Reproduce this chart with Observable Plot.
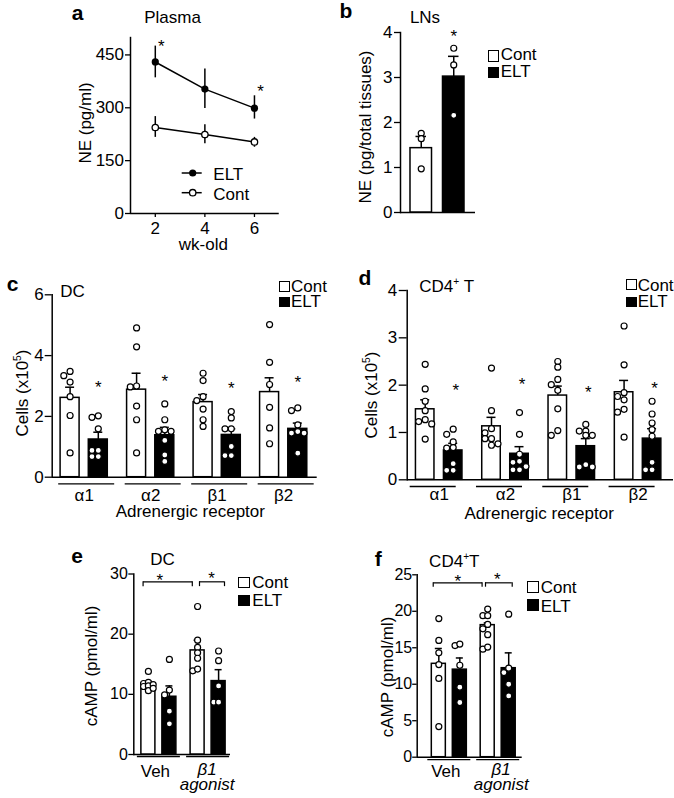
<!DOCTYPE html>
<html>
<head>
<meta charset="utf-8">
<script src="https://cdn.jsdelivr.net/npm/d3@7"></script>
<script src="https://cdn.jsdelivr.net/npm/@observablehq/plot@0.6"></script>
<style>
html, body { margin: 0; padding: 0; background: #fff; }
#fig { position: relative; width: 674px; height: 798px; overflow: hidden; font-family: "Liberation Sans", Arial, Helvetica, sans-serif; color: #000; }
.t { position: absolute; white-space: nowrap; transform: translate(-50%, -50%); font-size: 17px; line-height: 1; }
.rot { transform: translate(-50%, -50%) rotate(-90deg); }
.lt { position: absolute; white-space: nowrap; transform: translate(0, -50%); font-size: 17px; line-height: 1; }
.bold { font-weight: bold; font-size: 21px; line-height: 0.8; }
.sq { position: absolute; box-sizing: border-box; border: 1.5px solid #000; background: #fff; }
.sq.f { background: #000; }
sup { font-size: 0.6em; line-height: 0; vertical-align: 0.65em; }
</style>
</head>
<body>
<div id="fig">
  <!-- panel a -->
  <div class="t bold" style="left:77.5px;top:13.3px">a</div>
  <div class="t" style="left:172.5px;top:17.3px">Plasma</div>
  <div class="t rot" style="left:84.5px;top:123px">NE (pg/ml)</div>
  <div class="t" style="left:203.3px;top:244.3px">wk-old</div>
  <svg style="position:absolute;left:178px;top:163px" width="30" height="40">
    <line x1="3.7" y1="10" x2="23.7" y2="10" stroke="#000" stroke-width="1.5"/>
    <circle cx="14.7" cy="10" r="3.6" fill="#000"/>
    <line x1="3.7" y1="29.7" x2="23.7" y2="29.7" stroke="#000" stroke-width="1.5"/>
    <circle cx="14.7" cy="29.7" r="3.2" fill="#fff" stroke="#000" stroke-width="1.3"/>
  </svg>
  <div class="lt" style="left:213.3px;top:174px">ELT</div>
  <div class="lt" style="left:213.3px;top:194px">Cont</div>
  <!-- panel b -->
  <div class="t bold" style="left:345.8px;top:11px">b</div>
  <div class="t" style="left:425px;top:17.3px">LNs</div>
  <div class="t rot" style="left:364.5px;top:126.7px">NE (pg/total tissues)</div>
  <div class="sq" style="left:488.3px;top:50px;width:11px;height:11.5px"></div>
  <div class="sq f" style="left:488.3px;top:66.5px;width:11px;height:11px"></div>
  <div class="lt" style="left:500.7px;top:54px">Cont</div>
  <div class="lt" style="left:500.7px;top:70.7px">ELT</div>
  <!-- panel c -->
  <div class="t bold" style="left:12.5px;top:284.3px">c</div>
  <div class="t" style="left:72.5px;top:290.8px">DC</div>
  <div class="t rot" style="left:21.5px;top:393.3px">Cells (x10<sup>5</sup>)</div>
  <div class="t" style="left:190.3px;top:511px">Adrenergic receptor</div>
  <div class="sq" style="left:279.3px;top:280.7px;width:10.7px;height:11px"></div>
  <div class="sq f" style="left:279.3px;top:296.7px;width:10.7px;height:10.3px"></div>
  <div class="lt" style="left:291px;top:285.8px">Cont</div>
  <div class="lt" style="left:291px;top:301.4px">ELT</div>
  <!-- panel d -->
  <div class="t bold" style="left:365px;top:277.6px">d</div>
  <div class="t" style="left:446.7px;top:285.8px">CD4<sup>+</sup> T</div>
  <div class="t rot" style="left:371.3px;top:395px">Cells (x10<sup>5</sup>)</div>
  <div class="t" style="left:539.2px;top:513px">Adrenergic receptor</div>
  <div class="sq" style="left:626px;top:279.3px;width:10.7px;height:11px"></div>
  <div class="sq f" style="left:626px;top:296.7px;width:10.7px;height:10.3px"></div>
  <div class="lt" style="left:637.7px;top:284.8px">Cont</div>
  <div class="lt" style="left:637.7px;top:301.4px">ELT</div>
  <!-- panel e -->
  <div class="t bold" style="left:77.2px;top:556px">e</div>
  <div class="t" style="left:162.5px;top:559px">DC</div>
  <div class="t rot" style="left:90.5px;top:665.8px">cAMP (pmol/ml)</div>
  <div class="sq" style="left:237.7px;top:577.3px;width:12.3px;height:11px"></div>
  <div class="sq f" style="left:237.7px;top:595px;width:12.3px;height:10.7px"></div>
  <div class="lt" style="left:252.3px;top:582.4px">Cont</div>
  <div class="lt" style="left:252.3px;top:600px">ELT</div>
  <!-- panel f -->
  <div class="t bold" style="left:378.3px;top:558.7px">f</div>
  <div class="t" style="left:454.3px;top:560.8px">CD4<sup>+</sup>T</div>
  <div class="t rot" style="left:387px;top:676.7px">cAMP (pmol/ml)</div>
  <div class="sq" style="left:526.7px;top:580.7px;width:12.6px;height:12px"></div>
  <div class="sq f" style="left:526.7px;top:599.3px;width:12.6px;height:11.4px"></div>
  <div class="lt" style="left:540.7px;top:587.4px">Cont</div>
  <div class="lt" style="left:540.7px;top:605.8px">ELT</div>
</div>
<script>
// ---------------- Panel a: plasma NE (pg/ml) by age ----------------
const weeks = [2, 4, 6];
const eltNE = [430, 353, 299];
const eltNELo = [385, 298, 268];
const eltNEHi = [475, 410, 334];
const contNE = [244, 224, 203];
const contNELo = [216, 198, 188];
const contNEHi = [275, 252, 216];
const neStarWeeks = [2, 6];
const neStarLevels = [486, 358];
const neTicksY = [0, 150, 300, 450];

// ---------------- Panel b: LN NE (pg/total tissues) ----------------
const lnGroups = ["Cont", "ELT"];
const lnMean = [1.43, 3.02];
const lnSE = [0.26, 0.45];
const lnPoints = [[1.76, 1.64, 0.97], [3.65, 3.28, 2.16]];
const lnStarLevel = 4.0;
const lnTicksY = [0, 1, 2, 3, 4];

// ---------------- Panel c: DC cells (x10^5) ----------------
const receptors = ["α1", "α2", "β1", "β2"];
const dcContMean = [2.61, 2.88, 2.47, 2.80];
const dcContSE = [0.35, 0.54, 0.25, 0.47];
const dcEltMean = [1.24, 1.38, 1.39, 1.59];
const dcEltSE = [0.24, 0.26, 0.20, 0.19];
const dcContPts = [
  [3.48, 3.34, 3.13, 2.65, 2.03, 0.80],
  [4.91, 4.29, 3.00, 2.97, 2.34, 1.89, 0.80],
  [3.42, 3.18, 2.65, 2.52, 2.24, 1.89, 1.67],
  [5.02, 3.78, 3.05, 2.30, 1.62, 1.10]
];
const dcEltPts = [
  [2.02, 1.97, 1.59, 0.88, 0.88, 0.68, 0.68],
  [2.41, 1.89, 1.56, 1.51, 1.51, 1.21, 0.73, 0.52],
  [2.16, 1.95, 1.59, 1.59, 1.01, 0.71, 0.71],
  [2.28, 2.19, 1.72, 1.50, 1.45, 1.45, 0.79]
];
const dcStars = [3.10, 3.29, 3.07, 3.24];
const dcTicksY = [0, 2, 4, 6];

// ---------------- Panel d: CD4+ T cells (x10^5) ----------------
const tContMean = [1.49, 1.13, 1.78, 1.85];
const tContSE = [0.20, 0.19, 0.20, 0.25];
const tEltMean = [0.62, 0.55, 0.71, 0.87];
const tEltSE = [0.15, 0.15, 0.16, 0.21];
const tContPts = [
  [2.44, 1.92, 1.66, 1.46, 1.27, 1.23, 1.18, 0.86],
  [2.36, 1.46, 1.08, 0.99, 0.87, 0.87, 0.76, 0.73],
  [2.50, 2.38, 2.12, 2.01, 1.89, 1.50, 1.04, 0.94],
  [3.25, 2.43, 1.84, 1.76, 1.69, 1.49, 1.43, 0.90]
];
const tEltPts = [
  [1.07, 0.96, 0.80, 0.68, 0.67, 0.34, 0.20, 0.20],
  [1.42, 0.96, 0.54, 0.39, 0.37, 0.28, 0.21, 0.21],
  [1.17, 1.03, 1.03, 0.94, 0.94, 0.32, 0.27, 0.27],
  [1.66, 1.39, 1.20, 1.06, 0.92, 0.37, 0.21, 0.21]
];
const tStars = [1.97, 2.10, 1.94, 2.01];
const tTicksY = [0, 1, 2, 3, 4];

// ---------------- Panels e/f: cAMP (pmol/ml) ----------------
const treatments = ["Veh", "β1\nagonist"];
const dcCampContMean = [11.8, 17.3];
const dcCampContSE = [0.4, 1.7];
const dcCampEltMean = [9.6, 12.2];
const dcCampEltSE = [1.8, 1.9];
const dcCampContPts = [[13.8, 12.0, 11.8, 11.6, 11.4, 11.3, 11.0, 10.6], [24.6, 19.0, 17.8, 16.9, 16.0, 14.2, 13.9]];
const dcCampEltPts = [[15.8, 10.7, 9.9, 7.2, 5.1], [17.2, 15.6, 11.4, 8.7, 8.7]];
const dcCampSig = 28.7, dcCampSigDrop = 27.9;
const dcCampStars = [29.7, 30.0];
const dcCampTicksY = [0, 10, 20, 30];

const tCampContMean = [12.8, 18.1];
const tCampContSE = [2.1, 0.3];
const tCampEltMean = [12.0, 12.2];
const tCampEltSE = [1.6, 2.1];
const tCampContPts = [[19.0, 16.0, 14.3, 12.7, 10.8, 4.2], [20.3, 19.4, 19.4, 18.2, 17.6, 16.8, 15.1, 14.8]];
const tCampEltPts = [[15.5, 15.3, 12.6, 9.6, 7.5], [19.6, 12.2, 11.6, 10.0, 8.4]];
const tCampSig = 23.9, tCampSigDrop = 23.3;
const tCampStars = [24.7, 24.9];
const tCampTicksY = [0, 5, 10, 15, 20, 25];

// ---------------- drawing ----------------
const W = 674, H = 798;
const fig = document.getElementById("fig");
const STY = {position: "absolute", left: "0px", top: "0px", background: "transparent", overflow: "visible",
  fontFamily: '"Liberation Sans", Arial, Helvetica, sans-serif', fontSize: "17px", color: "black"};
const intFmt = d => String(d);

function addPlot(opts) {
  const p = Plot.plot({width: W, height: H, style: STY, ...opts});
  fig.insertBefore(p, fig.firstChild);
}

// place replicate dots in up to three columns so that they do not overlap too much
function layoutDots(values, ppu, step, minDist) {
  const out = [];
  const order = values.map((v, i) => i).sort((a, b) => values[b] - values[a]);
  for (const i of order) {
    const v = values[i];
    let best = 0, bestD = -1;
    for (const col of [0, -1, 1]) {
      let d = Infinity;
      for (const p of out) d = Math.min(d, Math.hypot((p.col - col) * step, (p.v - v) * ppu));
      if (d >= minDist) { best = col; bestD = d; break; }
      if (d > bestD) { bestD = d; best = col; }
    }
    out.push({v, col: best});
  }
  return out;
}

function groupedMarks(o) {
  const half = o.W / 2;
  const sub = {Cont: -o.off, ELT: o.off};
  const rows = {Cont: [], ELT: []};
  o.groups.forEach((g, i) => {
    rows.Cont.push({g, mean: o.contMean[i], se: o.contSE[i]});
    rows.ELT.push({g, mean: o.eltMean[i], se: o.eltSE[i]});
  });
  const ppu = (H - o.mt - o.mb) / o.yMax;
  const pts = [];
  o.groups.forEach((g, i) => {
    [["Cont", o.contPts[i]], ["ELT", o.eltPts[i]]].forEach(([trt, arr]) => {
      layoutDots(arr, ppu, o.colStep, o.minDist).forEach(q => pts.push({g, trt, v: q.v, col: q.col}));
    });
  });
  const marks = [
    Plot.frame({anchor: "left", strokeWidth: 1.5}),
    Plot.ruleY([0], {strokeWidth: 1.5}),
    Plot.tickY(o.groups, {x: d => d, y: () => 0, dy: o.ul.dy, dx: o.ul.dx, insetLeft: o.ul.il, insetRight: o.ul.ir, strokeWidth: 1.3}),
    Plot.axisY({ticks: o.yTicks, tickFormat: intFmt, tickSize: o.tickSize, tickPadding: o.tickPadding, strokeWidth: 1.3,
      fontSize: o.tickFont || 17, label: null})
  ];
  for (const trt of ["Cont", "ELT"]) {
    const s = sub[trt];
    marks.push(Plot.barY(rows[trt], {x: "g", y1: () => 0, y2: "mean", fill: trt === "Cont" ? "white" : "black",
      stroke: "black", strokeWidth: 1.5, insetLeft: half + s - o.bw / 2, insetRight: half - s - o.bw / 2}));
  }
  for (const trt of ["Cont", "ELT"]) {
    const s = sub[trt];
    marks.push(Plot.ruleX(rows[trt], {x: "g", y1: "mean", y2: d => d.mean + d.se, dx: s, strokeWidth: 1.5}));
    marks.push(Plot.tickY(rows[trt], {x: "g", y: d => d.mean + d.se, insetLeft: half + s - o.capW / 2,
      insetRight: half - s - o.capW / 2, strokeWidth: 1.5}));
  }
  for (const trt of ["Cont", "ELT"]) for (const col of [-1, 0, 1]) {
    const P = pts.filter(d => d.trt === trt && d.col === col);
    if (P.length) marks.push(Plot.dot(P, {x: "g", y: "v", r: o.r, fill: "white", stroke: "black", strokeWidth: 1.2,
      dx: sub[trt] + col * o.colStep}));
  }
  return marks;
}

// ---- Panel a
{
  const elt = weeks.map((w, i) => ({w, m: eltNE[i], lo: eltNELo[i], hi: eltNEHi[i]}));
  const cont = weeks.map((w, i) => ({w, m: contNE[i], lo: contNELo[i], hi: contNEHi[i]}));
  const stars = neStarWeeks.map((w, i) => ({w, lvl: neStarLevels[i]}));
  addPlot({
    marginLeft: 130, marginRight: W - 278.75, marginTop: 36.8, marginBottom: H - 213,
    x: {domain: [1, 7]}, y: {domain: [0, 500]},
    marks: [
      Plot.ruleX([1], {strokeWidth: 1.5}),
      Plot.ruleY([0], {strokeWidth: 1.5}),
      Plot.axisX({ticks: weeks, tickFormat: intFmt, tickSize: 4, tickPadding: 4.7, strokeWidth: 1.3, label: null}),
      Plot.axisY({ticks: neTicksY, tickFormat: intFmt, tickSize: 5, tickPadding: 1.5, strokeWidth: 1.3, label: null}),
      Plot.line(elt, {x: "w", y: "m", strokeWidth: 1.5}),
      Plot.line(cont, {x: "w", y: "m", strokeWidth: 1.5}),
      Plot.ruleX(elt, {x: "w", y1: "lo", y2: "hi", strokeWidth: 1.5}),
      Plot.ruleX(cont, {x: "w", y1: "lo", y2: "hi", strokeWidth: 1.5}),
      Plot.dot(elt, {x: "w", y: "m", r: 3.6, fill: "black"}),
      Plot.dot(cont, {x: "w", y: "m", r: 3.2, fill: "white", stroke: "black", strokeWidth: 1.3}),
      Plot.text(stars, {x: "w", y: "lvl", text: () => "*", dx: 6, dy: 4.3, fontSize: 17})
    ]
  });
}

// ---- Panel b
{
  const rows = lnGroups.map((g, i) => ({g, m: lnMean[i], se: lnSE[i]}));
  const ppu = 180 / 4;
  const pts = [];
  lnGroups.forEach((g, i) => layoutDots(lnPoints[i], ppu, 6, 5).forEach(q => pts.push({g, v: q.v, col: q.col})));
  const marks = [
    Plot.frame({anchor: "left", strokeWidth: 1.5}),
    Plot.ruleY([0], {strokeWidth: 1.5}),
    Plot.axisY({ticks: lnTicksY, tickFormat: intFmt, tickSize: 6, tickPadding: 2, strokeWidth: 1.3, label: null}),
    Plot.barY(rows.filter(d => d.g === "Cont"), {x: "g", y1: () => 0, y2: "m", fill: "white", stroke: "black", strokeWidth: 1.5}),
    Plot.barY(rows.filter(d => d.g === "ELT"), {x: "g", y1: () => 0, y2: "m", fill: "black", stroke: "black", strokeWidth: 1.5}),
    Plot.ruleX(rows, {x: "g", y1: "m", y2: d => d.m + d.se, strokeWidth: 1.5}),
    Plot.tickY(rows, {x: "g", y: d => d.m + d.se, insetLeft: 5.5, insetRight: 5.5, strokeWidth: 1.5}),
    Plot.text([lnGroups[1]], {x: d => d, y: () => lnStarLevel, text: () => "*", dy: 4.3, fontSize: 17})
  ];
  for (const col of [-1, 0, 1]) {
    const P = pts.filter(d => d.col === col);
    if (P.length) marks.push(Plot.dot(P, {x: "g", y: "v", r: 3, fill: "white", stroke: "black", strokeWidth: 1.2, dx: col * 6}));
  }
  addPlot({
    marginLeft: 400, marginRight: W - 475, marginTop: 32, marginBottom: H - 212,
    x: {type: "band", domain: lnGroups, paddingInner: 0.338, paddingOuter: 0.323, align: 0.476, round: false, axis: null},
    y: {domain: [0, 4]},
    marks
  });
}

// ---- Panel c
{
  const o = {groups: receptors, contMean: dcContMean, contSE: dcContSE, eltMean: dcEltMean, eltSE: dcEltSE,
    contPts: dcContPts, eltPts: dcEltPts, yMax: 6, yTicks: dcTicksY, mt: 294.3, mb: H - 476.7,
    W: 56, off: 14.1, bw: 19, capW: 9, r: 3, colStep: 6.3, minDist: 5.5, tickSize: 7, tickPadding: 1.5,
    ul: {dy: 6.6, dx: 2.5, il: 0, ir: 0}};
  const marks = groupedMarks(o);
  marks.push(Plot.axisX({tickSize: 0, tickPadding: 11.3, label: null}));
  marks.push(Plot.text(receptors.map((g, i) => ({g, lvl: dcStars[i]})), {x: "g", y: "lvl", text: () => "*", dx: o.off, dy: 4.3, fontSize: 17}));
  addPlot({
    marginLeft: 51.7, marginRight: W - 316.7, marginTop: o.mt, marginBottom: o.mb,
    x: {type: "band", domain: receptors, paddingInner: 0.158, paddingOuter: 0.0715, align: 0.42, round: false},
    y: {domain: [0, 6]},
    marks
  });
}

// ---- Panel d
{
  const o = {groups: receptors, contMean: tContMean, contSE: tContSE, eltMean: tEltMean, eltSE: tEltSE,
    contPts: tContPts, eltPts: tEltPts, yMax: 4, yTicks: tTicksY, mt: 290, mb: H - 479.3,
    W: 56, off: 14, bw: 18.5, capW: 9, r: 3, colStep: 6.5, minDist: 5.5, tickSize: 8, tickPadding: 2,
    ul: {dy: 6.7, dx: 0, il: -1, ir: 11}};
  const marks = groupedMarks(o);
  marks.push(Plot.axisX({tickSize: 0, tickPadding: 8.5, label: null}));
  marks.push(Plot.text(receptors.map((g, i) => ({g, lvl: tStars[i]})), {x: "g", y: "lvl", text: () => "*", dx: o.off + 2.5, dy: 4.3, fontSize: 17}));
  addPlot({
    marginLeft: 406.7, marginRight: W - 673, marginTop: o.mt, marginBottom: o.mb,
    x: {type: "band", domain: receptors, paddingInner: 0.155, paddingOuter: 0.086, align: 0.35, round: false},
    y: {domain: [0, 4]},
    marks
  });
}

// ---- Panels e and f
function campPanel(o) {
  const marks = groupedMarks(o);
  const g0 = [o.groups[0]], g1 = [o.groups[1]];
  marks.push(Plot.text(g0, {x: d => d, frameAnchor: "bottom", lineAnchor: "top", dy: o.labelDy, dx: -3.5, text: d => d}));
  marks.push(Plot.text(g1, {x: d => d, frameAnchor: "bottom", lineAnchor: "top", dy: o.labelDy, dx: o.label2dx, text: d => d,
    fontStyle: "italic", lineHeight: 0.88}));
  // significance brackets
  marks.push(Plot.link([{a: o.groups[0], b: o.groups[1]}], {x1: "a", x2: "b", y1: () => o.sig, y2: () => o.sig, dx: o.br1dx, strokeWidth: 1.2}));
  marks.push(Plot.ruleX(o.groups, {x: d => d, y1: () => o.sig, y2: () => o.sigDrop, dx: o.br1dx, strokeWidth: 1.2}));
  marks.push(Plot.tickY(g1, {x: d => d, y: () => o.sig, insetLeft: o.br2il, insetRight: o.br2ir, strokeWidth: 1.2}));
  marks.push(Plot.ruleX(g1, {x: d => d, y1: () => o.sig, y2: () => o.sigDrop, dx: o.br2dxL, strokeWidth: 1.2}));
  marks.push(Plot.ruleX(g1, {x: d => d, y1: () => o.sig, y2: () => o.sigDrop, dx: o.br2dxR, strokeWidth: 1.2}));
  marks.push(Plot.text(g0, {x: d => d, y: () => o.stars[0], text: () => "*", dx: o.s1dx, dy: 4.3, fontSize: 17}));
  marks.push(Plot.text(g1, {x: d => d, y: () => o.stars[1], text: () => "*", dx: o.s2dx, dy: 4.3, fontSize: 17}));
  addPlot({
    marginLeft: o.ml, marginRight: W - o.xEnd, marginTop: o.mt, marginBottom: o.mb,
    x: {type: "band", domain: o.groups, paddingInner: o.pi, paddingOuter: o.po, align: o.align, round: false, axis: null},
    y: {domain: [0, o.yMax]},
    marks
  });
}

campPanel({groups: treatments, contMean: dcCampContMean, contSE: dcCampContSE, eltMean: dcCampEltMean, eltSE: dcCampEltSE,
  contPts: dcCampContPts, eltPts: dcCampEltPts, yMax: 30, yTicks: dcCampTicksY, mt: 573.5, mb: H - 754,
  ml: 133.3, xEnd: 230, pi: 0.126, po: 0.0455, align: 0.8,
  W: 43, off: 10.5, bw: 14, capW: 7, r: 3, colStep: 4.8, minDist: 5, tickSize: 5, tickPadding: 1, tickFont: 16,
  ul: {dy: 2, dx: 0, il: 0, ir: 0}, labelDy: 10, label2dx: -1,
  sig: dcCampSig, sigDrop: dcCampSigDrop, stars: dcCampStars,
  br1dx: -15.8, br2il: 12.9, br2ir: 5.1, br2dxL: -8.6, br2dxR: 16.4, s1dx: 1, s2dx: 3.4});

campPanel({groups: treatments, contMean: tCampContMean, contSE: tCampContSE, eltMean: tCampEltMean, eltSE: tCampEltSE,
  contPts: tCampContPts, eltPts: tCampEltPts, yMax: 25, yTicks: tCampTicksY, mt: 574.3, mb: H - 756.7,
  ml: 416.7, xEnd: 521.7, pi: 0.12, po: 0.134, align: 0.81,
  W: 43, off: 10.5, bw: 14, capW: 7, r: 3, colStep: 4.8, minDist: 5, tickSize: 4.5, tickPadding: 0.5, tickFont: 16,
  ul: {dy: 2.5, dx: 0, il: 0, ir: 0}, labelDy: 7.3, label2dx: 3,
  sig: tCampSig, sigDrop: tCampSigDrop, stars: tCampStars,
  br1dx: -16.1, br2il: 8.8, br2ir: 7.5, br2dxL: -12.7, br2dxR: 14, s1dx: 8.5, s2dx: -1});
</script>
</body>
</html>
